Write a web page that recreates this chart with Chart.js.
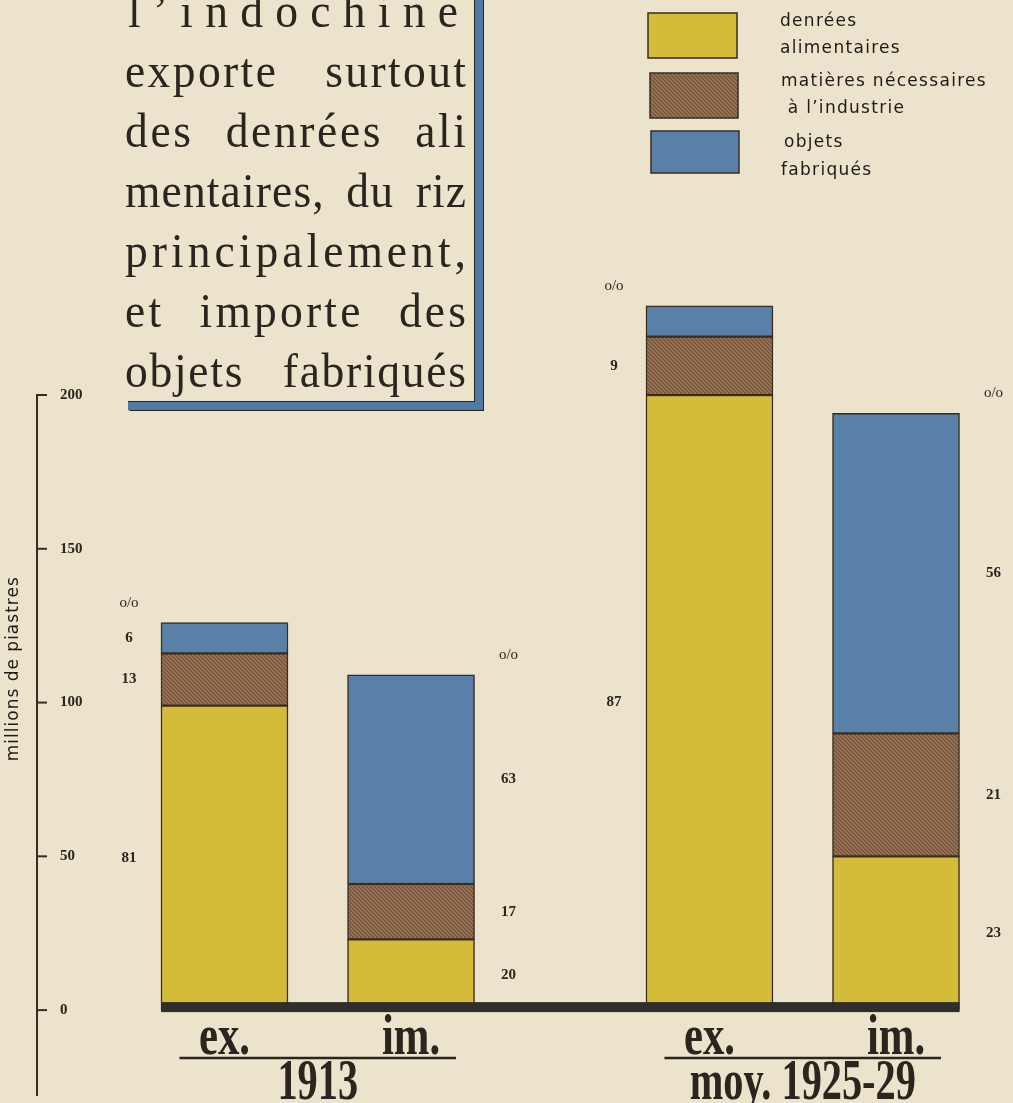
<!DOCTYPE html>
<html>
<head>
<meta charset="utf-8">
<script src="https://cdn.jsdelivr.net/npm/chart.js@4.4.0/dist/chart.umd.min.js"></script>
<style>
  html, body { margin: 0; padding: 0; background: #ebe3cb; }
  #wrap { position: relative; width: 1013px; height: 1103px; overflow: hidden; background: #ebe3cb; }
  #c { position: absolute; left: 0; top: 0; }
  #frameOuter { position: absolute; left: 128px; top: -20px; width: 355px; height: 430px;
    background: #5079a4; border-right: 1.5px solid #2b2620; border-bottom: 1.5px solid #2b2620;
    border-bottom-left-radius: 3px; }
  #frameInner { position: absolute; left: 128px; top: -20px; width: 346px; height: 421px;
    background: #ebe3cb; border-right: 1.5px solid #2b2620; border-bottom: 1.5px solid #2b2620; }
  #title { position: absolute; left: 0; top: 0; width: 500px; height: 420px; }
  .tl { position: absolute; display: inline-block; white-space: nowrap;
    font-family: "Liberation Serif", serif; font-size: 49px; line-height: 60px; color: #2b2520;
    transform-origin: 0 0; transform: scaleX(0.93); }
</style>
</head>
<body>
<div id="wrap">
  <canvas id="c" width="1013" height="1103"></canvas>
  <div id="frameOuter"></div>
  <div id="frameInner"></div>
  <div id="title"></div>
</div>
<script>
// ---------------- DATA ----------------
const categories = ['ex.', 'im.', 'ex.', 'im.'];
const periods = ['1913', 'moy. 1925-29'];
const seriesNames = [['denrées', 'alimentaires'], ['matières nécessaires', ' à l’industrie'], ['objets', 'fabriqués']];
// millions de piastres
const food = [99, 23, 200, 50];
const materials = [17, 18, 19, 40];
const manufactured = [10, 68, 10, 104];
// printed percentages
const foodPct = ['81', '20', '87', '23'];
const materialsPct = ['13', '17', '9', '21'];
const manufacturedPct = ['6', '63', '', '56'];
const yTicks = [0, 50, 100, 150, 200];
const yTitle = 'millions de piastres';
const titleLines = ['l’indochine', 'exporte surtout', 'des denrées ali', 'mentaires, du riz', 'principalement,', 'et importe des', 'objets fabriqués'];

// ---------------- LAYOUT / STYLE ----------------
const xSlots = [0, 5, 13, 18];
const INK = '#2b2520';
const YELLOW = '#d4bb3a';
const BLUE = '#5880a8';
const EDGE = '#3a2b21';

function brownPattern() {
  const p = document.createElement('canvas');
  p.width = 4; p.height = 4;
  const g = p.getContext('2d');
  g.fillStyle = '#8b6348'; g.fillRect(0, 0, 4, 4);
  g.fillStyle = '#71503a';
  for (let k = 0; k < 4; k++) g.fillRect(k, k % 4, 1, 1);
  g.fillStyle = '#a07c5d';
  for (let k = 0; k < 4; k++) g.fillRect(k, (k + 2) % 4, 1, 1);
  return g.createPattern(p, 'repeat');
}
const BROWN = brownPattern();

const pts = vals => vals.map((v, i) => ({ x: xSlots[i], y: v }));
const pctSets = [foodPct, materialsPct, manufacturedPct];

const decor = {
  id: 'decor',
  afterDatasetsDraw(chart) {
    const ctx = chart.ctx;
    const y = chart.scales.y;
    const zero = y.getPixelForValue(0);
    const first = chart.getDatasetMeta(0).data[0];
    const last = chart.getDatasetMeta(0).data[categories.length - 1];
    // thick base line
    ctx.save();
    ctx.fillStyle = '#2f2e2a';
    ctx.fillRect(first.x - first.width / 2, zero - 8, (last.x + last.width / 2) - (first.x - first.width / 2), 10);
    ctx.restore();

    // percentage labels
    ctx.save();
    ctx.fillStyle = INK;
    ctx.textAlign = 'center';
    ctx.textBaseline = 'middle';
    categories.forEach((cat, i) => {
      const isEx = i % 2 === 0;
      const el0 = chart.getDatasetMeta(0).data[i];
      const lx = isEx ? el0.x - el0.width / 2 - 32 : el0.x + el0.width / 2 + 34;
      pctSets.forEach((arr, d) => {
        const el = chart.getDatasetMeta(d).data[i];
        if (!arr[i]) return;
        ctx.font = 'bold 15px "Liberation Serif"';
        ctx.fillText(arr[i], lx, (el.y + el.base) / 2);
      });
      const top = chart.getDatasetMeta(2).data[i];
      ctx.font = '15px "Liberation Serif"';
      ctx.fillText('o/o', lx, top.y - 20);
    });
    ctx.restore();

    // category and period labels
    ctx.save();
    ctx.fillStyle = INK;
    ctx.strokeStyle = INK;
    ctx.textAlign = 'center';
    ctx.textBaseline = 'alphabetic';
    categories.forEach((cat, i) => {
      const el = chart.getDatasetMeta(0).data[i];
      ctx.save();
      ctx.translate(el.x, 1054);
      ctx.scale(0.75, 1);
      ctx.font = 'bold 57px "Liberation Serif"';
      ctx.fillText(cat, 0, 0);
      ctx.restore();
    });
    periods.forEach((p, g) => {
      const a = chart.getDatasetMeta(0).data[g * 2];
      const b = chart.getDatasetMeta(0).data[g * 2 + 1];
      ctx.lineWidth = 2.5;
      ctx.beginPath();
      ctx.moveTo(a.x - 45, 1058);
      ctx.lineTo(b.x + 45, 1058);
      ctx.stroke();
      ctx.save();
      ctx.translate((a.x + b.x) / 2, 1099);
      ctx.scale(0.72, 1);
      ctx.font = 'bold 56px "Liberation Serif"';
      ctx.fillText(p, 0, 0);
      ctx.restore();
    });
    ctx.restore();
  },
  afterDraw(chart) {
    const ctx = chart.ctx;
    const y = chart.scales.y;
    const left = chart.chartArea.left;
    // tick marks pointing right
    ctx.save();
    ctx.strokeStyle = EDGE;
    ctx.lineWidth = 2;
    y.ticks.forEach(t => {
      const py = y.getPixelForValue(t.value);
      ctx.beginPath();
      ctx.moveTo(left, py);
      ctx.lineTo(left + 10, py);
      ctx.stroke();
    });
    ctx.restore();

    // y-axis title
    ctx.save();
    ctx.fillStyle = '#1f1a16';
    ctx.font = '17px "DejaVu Sans"';
    ctx.letterSpacing = '1px';
    ctx.textAlign = 'center';
    ctx.textBaseline = 'middle';
    ctx.translate(14, y.getPixelForValue(111));
    ctx.rotate(-Math.PI / 2);
    ctx.fillText(yTitle, 0, 0);
    ctx.restore();

    // legend
    const boxes = [[648, 13, 89, 45], [650, 73, 88, 45], [651, 131, 88, 42]];
    const textPos = [[[780, 26], [780, 53]], [[781, 86], [781, 113]], [[784, 147], [781, 175]]];
    const fills = chart.data.datasets.map(d => d.backgroundColor);
    ctx.save();
    boxes.forEach((b, k) => {
      ctx.fillStyle = fills[k];
      ctx.fillRect(b[0], b[1], b[2], b[3]);
      ctx.strokeStyle = EDGE;
      ctx.lineWidth = 1.5;
      ctx.strokeRect(b[0], b[1], b[2], b[3]);
      ctx.fillStyle = '#1f1a16';
      ctx.font = '17px "DejaVu Sans"';
      ctx.letterSpacing = '1.3px';
      ctx.textAlign = 'left';
      ctx.textBaseline = 'alphabetic';
      seriesNames[k].forEach((line, j) => {
        ctx.fillText(line, textPos[k][j][0], textPos[k][j][1]);
      });
    });
    ctx.restore();
  }
};

new Chart(document.getElementById('c'), {
  type: 'bar',
  data: {
    datasets: [
      { label: seriesNames[0].join(' '), data: pts(food), backgroundColor: YELLOW },
      { label: seriesNames[1].join(' '), data: pts(materials), backgroundColor: BROWN },
      { label: seriesNames[2].join(' '), data: pts(manufactured), backgroundColor: BLUE }
    ].map(d => Object.assign(d, { barThickness: 127, borderColor: EDGE, borderWidth: 1.5, borderSkipped: false, clip: false }))
  },
  options: {
    responsive: false,
    animation: false,
    devicePixelRatio: 1,
    layout: { padding: { top: 395, bottom: 8, left: 0, right: 0 } },
    plugins: { legend: { display: false }, tooltip: { enabled: false } },
    scales: {
      x: { type: 'linear', stacked: true, display: false, min: -5.026, max: 21.136, offset: false },
      y: {
        stacked: true, min: -27.6, max: 200, position: 'left',
        afterBuildTicks: s => { s.ticks = yTicks.map(v => ({ value: v })); },
        afterFit: s => { s.width = 37; s.paddingTop = 0; s.paddingBottom = 0; },
        grid: { display: false, drawTicks: false },
        border: { display: true, color: EDGE, width: 2 },
        ticks: { mirror: true, padding: 23, color: INK, font: { family: 'Liberation Serif', weight: 'bold', size: 15 } }
      }
    }
  },
  plugins: [decor]
});

// ---------------- TITLE TEXT ----------------
const SX = 0.93;
const titleBox = document.getElementById('title');
const lineEls = titleLines.map((t, i) => {
  const d = document.createElement('div');
  d.className = 'tl';
  d.textContent = t;
  d.style.top = (27 + 60 * i - 46) + 'px';
  titleBox.appendChild(d);
  return d;
});
function justify() {
  lineEls.forEach((d, i) => {
    const L = i === 0 ? 128 : 125;
    const R = i === 0 ? 458 : 466;
    d.style.left = L + 'px';
    d.style.letterSpacing = '0px';
    d.style.wordSpacing = '0px';
    const t = titleLines[i];
    const w = d.getBoundingClientRect().width / SX;
    const target = (R - L) / SX;
    const extra = target - w;
    const n = t.length;
    const spaces = (t.match(/ /g) || []).length;
    let ls, ws = 0;
    if (spaces) {
      ls = 0.5 * extra / (n - 1);
      ws = (extra - ls * (n - 1)) / spaces;
    } else {
      ls = extra / (n - 1);
    }
    d.style.letterSpacing = ls + 'px';
    d.style.wordSpacing = ws + 'px';
  });
}
justify();
if (document.fonts && document.fonts.ready) document.fonts.ready.then(justify);
</script>
</body>
</html>
